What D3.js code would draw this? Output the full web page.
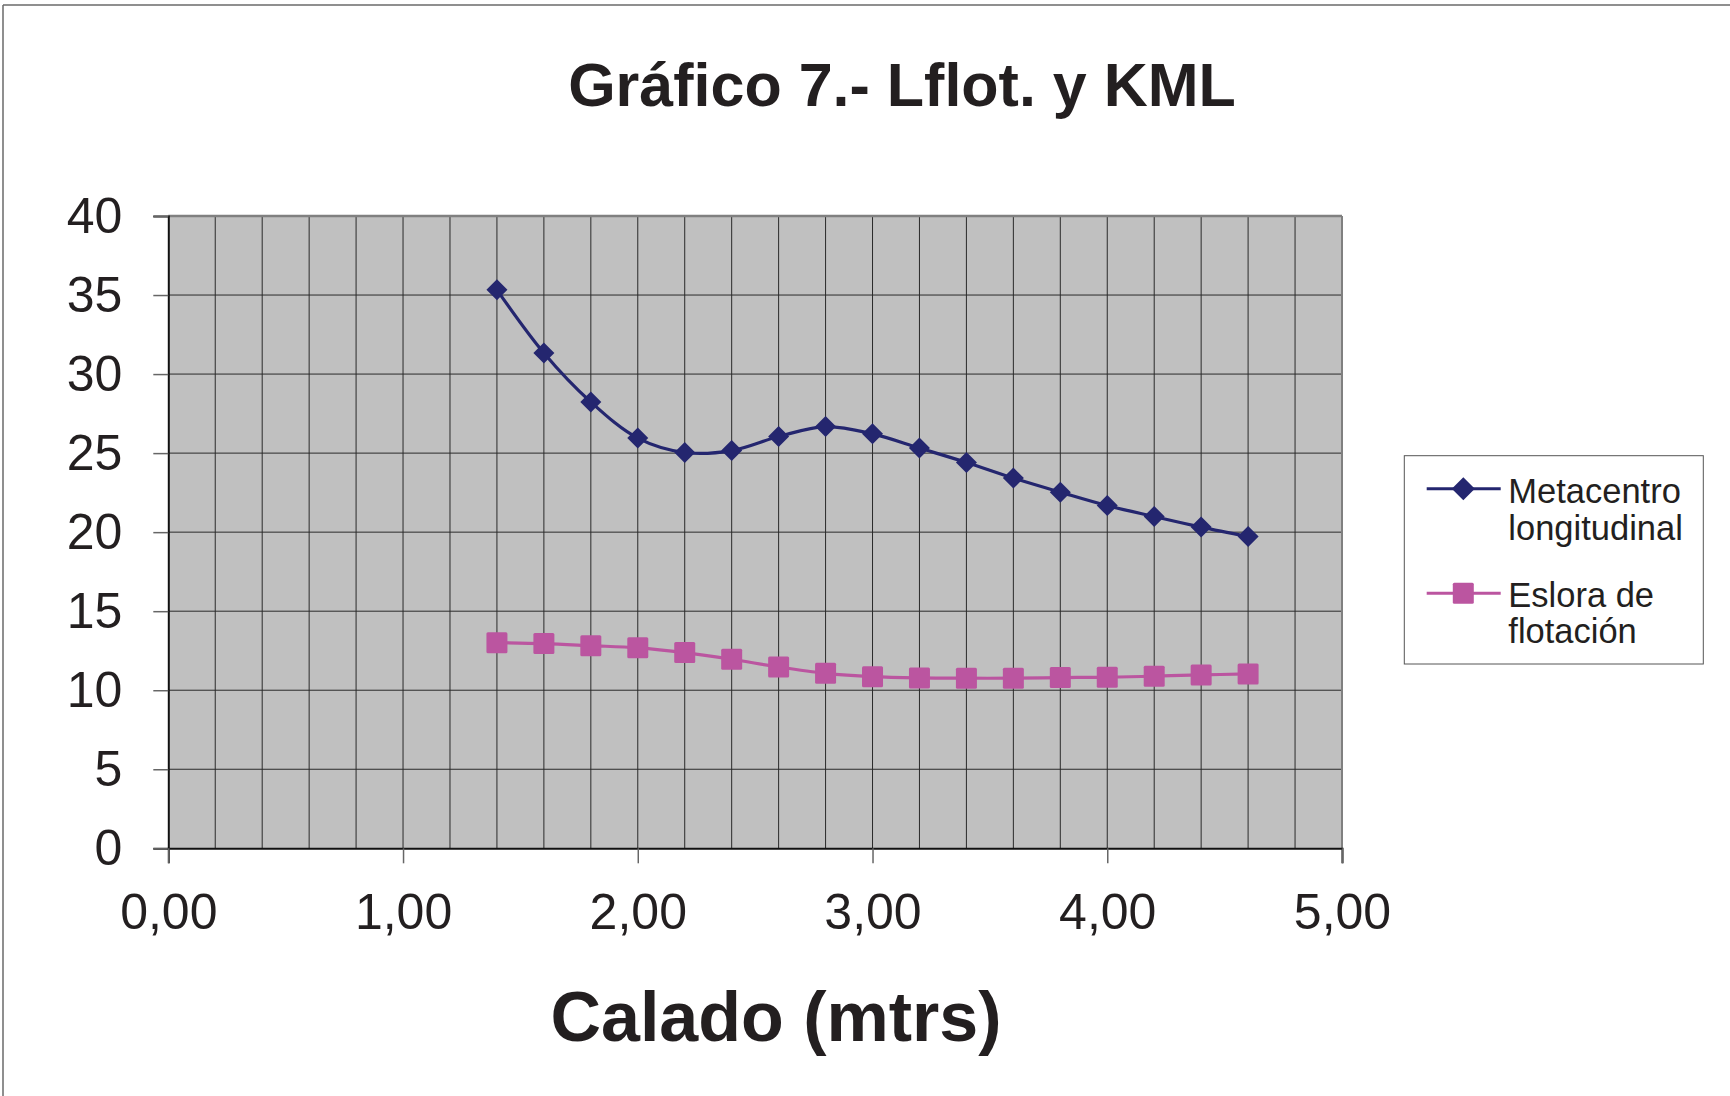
<!DOCTYPE html>
<html>
<head>
<meta charset="utf-8">
<script src="https://cdn.jsdelivr.net/npm/d3@7"></script>
<style>
  html, body { margin: 0; padding: 0; background: #ffffff; }
  svg { display: block; }
  text { font-family: "Liberation Sans", Arial, sans-serif; fill: #231f20; }
</style>
</head>
<body>
<svg id="chart" width="1730" height="1096"></svg>
<script>
// ---- data ----
const calado = [1.4, 1.6, 1.8, 2.0, 2.2, 2.4, 2.6, 2.8, 3.0, 3.2, 3.4, 3.6, 3.8, 4.0, 4.2, 4.4, 4.6];
const metacentro = [35.33, 31.33, 28.23, 25.95, 25.04, 25.16, 26.05, 26.68, 26.22, 25.32, 24.41, 23.42, 22.53, 21.68, 20.99, 20.32, 19.72];
const eslora = [13.01, 12.95, 12.82, 12.68, 12.38, 11.96, 11.47, 11.07, 10.86, 10.78, 10.76, 10.76, 10.80, 10.82, 10.89, 10.97, 11.03];
const xTicks = [0, 1, 2, 3, 4, 5];
const yTicks = [0, 5, 10, 15, 20, 25, 30, 35, 40];
const seriesNames = [["Metacentro", "longitudinal"], ["Eslora de", "flotación"]];
const titleText = "Gráfico 7.- Lflot. y KML";
const xTitleText = "Calado (mtrs)";

(function () {
// ---- layout ----
const svg = d3.select("#chart");
const pL = 168.3, pR = 1342, pT = 216, pB = 848.3;
const x = d3.scaleLinear().domain([0, 5]).range([pL, pR]);
const y = d3.scaleLinear().domain([0, 40]).range([pB, pT]);
const navy = "#24266f", pink = "#bb55a0";

// outer frame lines
svg.append("line").attr("x1", 3).attr("x2", 1730).attr("y1", 5).attr("y2", 5)
  .attr("stroke", "#6a6a6a").attr("stroke-width", 1.5);
svg.append("line").attr("x1", 3).attr("x2", 3).attr("y1", 5).attr("y2", 1096)
  .attr("stroke", "#6a6a6a").attr("stroke-width", 1.5);

// plot background
svg.append("rect").attr("x", pL).attr("y", pT)
  .attr("width", pR - pL).attr("height", pB - pT)
  .attr("fill", "#c0c0c0");

// grid
const vGrid = d3.range(1, 25).map(i => i * 0.2);
svg.append("g").selectAll("line").data(vGrid).join("line")
  .attr("x1", d => x(d)).attr("x2", d => x(d))
  .attr("y1", pT).attr("y2", pB)
  .attr("stroke", "#2a2a2a").attr("stroke-width", 1);
svg.append("g").selectAll("line").data(yTicks.filter(d => d > 0 && d < 40)).join("line")
  .attr("x1", pL).attr("x2", pR)
  .attr("y1", d => y(d)).attr("y2", d => y(d))
  .attr("stroke", "#2a2a2a").attr("stroke-width", 1);

// top/right frame (gray)
svg.append("line").attr("x1", pL).attr("x2", pR).attr("y1", pT).attr("y2", pT)
  .attr("stroke", "#808080").attr("stroke-width", 2.5);
svg.append("line").attr("x1", pR).attr("x2", pR).attr("y1", pT).attr("y2", pB)
  .attr("stroke", "#808080").attr("stroke-width", 2);

// axes
const yAxis = d3.axisLeft(y).tickValues(yTicks).tickSize(15).tickPadding(31).tickFormat(d3.format("d"));
const gy = svg.append("g").attr("transform", `translate(${pL},0)`).call(yAxis);
const xAxis = d3.axisBottom(x).tickValues(xTicks).tickSize(15).tickPadding(30)
  .tickFormat(d => d3.format(".2f")(d).replace(".", ","));
const gx = svg.append("g").attr("transform", `translate(0,${pB})`).call(xAxis);
[gx, gy].forEach(g => {
  g.select(".domain").attr("stroke", "#111").attr("stroke-width", 2);
  g.selectAll(".tick line").attr("stroke", "#666").attr("stroke-width", 1.5);
  g.selectAll(".tick text").attr("font-size", 50).attr("fill", "#231f20")
    .attr("font-family", "'Liberation Sans', Arial, sans-serif");
});

// series
const line = d3.line().x(d => x(d[0])).y(d => y(d[1])).curve(d3.curveCatmullRom.alpha(0.5));
const mData = calado.map((c, i) => [c, metacentro[i]]);
const eData = calado.map((c, i) => [c, eslora[i]]);

svg.append("path").datum(eData).attr("d", line)
  .attr("fill", "none").attr("stroke", pink).attr("stroke-width", 3.2);
svg.append("g").selectAll("rect").data(eData).join("rect")
  .attr("x", d => x(d[0]) - 10.5).attr("y", d => y(d[1]) - 10.5)
  .attr("width", 21).attr("height", 21).attr("rx", 1.5)
  .attr("fill", pink);

svg.append("path").datum(mData).attr("d", line)
  .attr("fill", "none").attr("stroke", navy).attr("stroke-width", 3.2);
const diamond = (cx, cy, r) => `M${cx},${cy - r}L${cx + r},${cy}L${cx},${cy + r}L${cx - r},${cy}Z`;
svg.append("g").selectAll("path").data(mData).join("path")
  .attr("d", d => diamond(x(d[0]), y(d[1]), 10.5))
  .attr("fill", navy);

// title
svg.append("text").attr("x", 902).attr("y", 106).attr("text-anchor", "middle")
  .attr("font-size", 61).attr("font-weight", "bold").text(titleText);
svg.append("text").attr("x", 776).attr("y", 1041).attr("text-anchor", "middle")
  .attr("font-size", 70).attr("font-weight", "bold").text(xTitleText);

// legend
const lg = svg.append("g");
lg.append("rect").attr("x", 1404.3).attr("y", 455.7).attr("width", 299).attr("height", 208.3)
  .attr("fill", "#fff").attr("stroke", "#555").attr("stroke-width", 1);
const legendRows = [
  { color: navy, ly: 488.7, b1: 503.3, shape: "diamond" },
  { color: pink, ly: 593.3, b1: 606.7, shape: "square" }
];
legendRows.forEach((r, i) => {
  lg.append("line").attr("x1", 1426.7).attr("x2", 1500.7).attr("y1", r.ly).attr("y2", r.ly)
    .attr("stroke", r.color).attr("stroke-width", 3);
  if (r.shape === "diamond") {
    lg.append("path").attr("d", diamond(1463.3, r.ly, 11.5)).attr("fill", r.color);
  } else {
    lg.append("rect").attr("x", 1463.3 - 10.5).attr("y", r.ly - 10.5).attr("width", 21).attr("height", 21)
      .attr("rx", 1.5).attr("fill", r.color);
  }
  lg.append("text").attr("x", 1508.3).attr("y", r.b1).attr("font-size", 34.5).text(seriesNames[i][0]);
  lg.append("text").attr("x", 1508.3).attr("y", r.b1 + 36.7).attr("font-size", 34.5).text(seriesNames[i][1]);
});
})();
</script>
</body>
</html>
